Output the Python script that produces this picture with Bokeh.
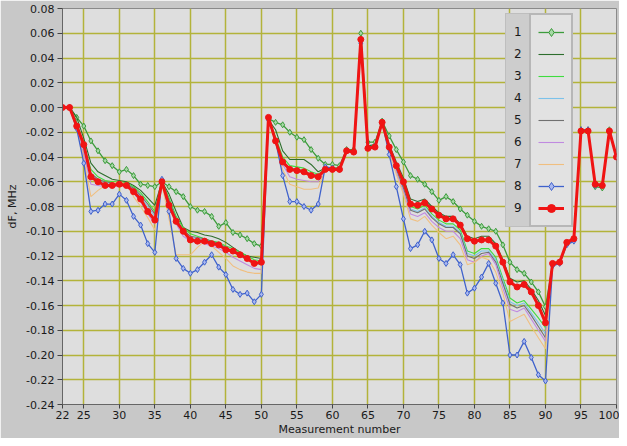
from bokeh.plotting import figure
from bokeh.models import FixedTicker, PrintfTickFormatter, Legend, LegendItem, Range1d
from bokeh.embed import file_html
from bokeh.resources import INLINE

# ---------------- data ----------------
measurement = list(range(22, 101))
x_ticks = [22, 25, 30, 35, 40, 45, 50, 55, 60, 65, 70, 75, 80, 85, 90, 95, 100]
y_ticks = [-0.24, -0.22, -0.20, -0.18, -0.16, -0.14, -0.12, -0.10, -0.08, -0.06,
           -0.04, -0.02, 0.0, 0.02, 0.04, 0.06, 0.08]
series_names = ["1", "2", "3", "4", "5", "6", "7", "8", "9"]

s1 = [0, 0, -.008, -.015, -.027, -.035, -.043, -.047, -.052, -.050, -.055, -.062, -.063, -.064,
      -.060, -.064, -.068, -.072, -.080, -.083, -.084, -.088, -.096, -.093, -.101, -.103, -.106, -.110, -.112,
      -.009, -.012, -.014, -.020, -.024, -.026, -.034, -.041, -.046, -.046, -.047, -.034, -.034, .060, -.028, -.028, -.011,
      -.023, -.034, -.044, -.055, -.058, -.062, -.068, -.075, -.072, -.076, -.082, -.087, -.092, -.096, -.098, -.100,
      -.111, -.125, -.131, -.134, -.141, -.149, -.161,
      -.127, -.125, -.110, -.107, -.018, -.018, -.064, -.065, -.018, -.040]
s2 = [0, 0, -.008, -.025, -.045, -.052, -.055, -.058, -.059, -.060, -.063, -.067, -.073, -.079,
      -.060, -.070, -.084, -.097, -.100, -.101, -.103, -.104, -.106, -.109, -.113, -.117, -.120, -.121, -.122,
      -.010, -.018, -.035, -.042, -.042, -.042, -.046, -.052, -.049, -.049, -.049, -.034, -.035, .056, -.031, -.030, -.011,
      -.030, -.044, -.057, -.074, -.076, -.074, -.080, -.085, -.088, -.088, -.094, -.104, -.106, -.104, -.104, -.110,
      -.123, -.138, -.141, -.140, -.147, -.156, -.168,
      -.126, -.125, -.109, -.106, -.019, -.019, -.063, -.063, -.019, -.040]
s3 = [0, 0, -.012, -.030, -.050, -.056, -.059, -.060, -.060, -.061, -.064, -.069, -.076, -.084,
      -.060, -.073, -.088, -.097, -.102, -.104, -.106, -.108, -.109, -.112, -.114, -.117, -.120, -.123, -.124,
      -.009, -.024, -.040, -.047, -.048, -.049, -.052, -.054, -.049, -.049, -.049, -.034, -.035, .056, -.032, -.031, -.012,
      -.033, -.049, -.064, -.080, -.082, -.079, -.086, -.091, -.094, -.094, -.099, -.116, -.118, -.114, -.114, -.121,
      -.138, -.154, -.158, -.156, -.163, -.170, -.178,
      -.126, -.125, -.109, -.106, -.019, -.019, -.063, -.063, -.019, -.040]
s4 = [0, 0, -.014, -.034, -.055, -.059, -.061, -.062, -.061, -.062, -.066, -.072, -.080, -.088,
      -.060, -.076, -.091, -.101, -.105, -.106, -.107, -.109, -.111, -.114, -.117, -.120, -.123, -.126, -.127,
      -.009, -.026, -.044, -.050, -.051, -.052, -.054, -.055, -.050, -.050, -.050, -.035, -.036, .054, -.033, -.032, -.012,
      -.034, -.051, -.066, -.082, -.084, -.081, -.088, -.093, -.096, -.096, -.101, -.118, -.120, -.116, -.116, -.123,
      -.140, -.157, -.160, -.158, -.166, -.174, -.183,
      -.126, -.125, -.109, -.106, -.019, -.019, -.063, -.063, -.019, -.040]
s5 = [0, 0, -.013, -.032, -.053, -.058, -.060, -.061, -.061, -.062, -.065, -.071, -.078, -.086,
      -.060, -.075, -.090, -.099, -.104, -.105, -.106, -.108, -.110, -.113, -.116, -.119, -.122, -.125, -.126,
      -.009, -.025, -.043, -.049, -.050, -.051, -.054, -.055, -.050, -.050, -.050, -.035, -.036, .054, -.033, -.032, -.012,
      -.034, -.050, -.065, -.083, -.085, -.082, -.089, -.094, -.097, -.097, -.102, -.120, -.122, -.118, -.117, -.125,
      -.142, -.159, -.162, -.160, -.168, -.177, -.186,
      -.126, -.125, -.109, -.106, -.019, -.019, -.063, -.063, -.019, -.040]
s6 = [0, 0, -.016, -.038, -.062, -.063, -.064, -.064, -.063, -.064, -.069, -.076, -.086, -.094,
      -.060, -.078, -.094, -.104, -.108, -.109, -.110, -.112, -.114, -.117, -.121, -.124, -.127, -.130, -.131,
      -.009, -.027, -.046, -.056, -.058, -.059, -.060, -.060, -.050, -.050, -.050, -.035, -.036, .054, -.033, -.032, -.012,
      -.035, -.052, -.068, -.086, -.088, -.085, -.092, -.097, -.100, -.100, -.106, -.123, -.125, -.120, -.118, -.127,
      -.146, -.163, -.165, -.162, -.171, -.180, -.189,
      -.126, -.125, -.109, -.106, -.019, -.019, -.063, -.063, -.019, -.040]
s7 = [0, 0, -.017, -.042, -.072, -.067, -.063, -.061, -.060, -.062, -.072, -.080, -.089, -.099,
      -.062, -.090, -.119, -.119, -.119, -.113, -.108, -.112, -.117, -.122, -.128, -.131, -.133, -.134, -.134,
      -.009, -.028, -.050, -.062, -.064, -.066, -.066, -.065, -.050, -.050, -.050, -.035, -.036, .054, -.033, -.032, -.012,
      -.036, -.054, -.070, -.090, -.092, -.088, -.095, -.101, -.106, -.104, -.111, -.127, -.125, -.121, -.123, -.133,
      -.150, -.173, -.170, -.167, -.177, -.186, -.195,
      -.126, -.125, -.109, -.106, -.019, -.019, -.063, -.063, -.019, -.040]
s8 = [0, 0, -.017, -.045, -.084, -.083, -.078, -.078, -.070, -.075, -.088, -.095, -.110, -.117,
      -.058, -.084, -.122, -.130, -.134, -.131, -.125, -.119, -.129, -.135, -.147, -.151, -.150, -.157, -.151,
      -.010, -.027, -.055, -.076, -.076, -.080, -.083, -.078, -.048, -.049, -.050, -.035, -.036, .052, -.032, -.031, -.012,
      -.038, -.064, -.090, -.114, -.111, -.100, -.107, -.122, -.126, -.119, -.127, -.150, -.146, -.137, -.126, -.142,
      -.158, -.200, -.200, -.189, -.202, -.216, -.221,
      -.128, -.126, -.111, -.108, -.018, -.018, -.063, -.063, -.019, -.040]
s9 = [0, 0, -.015, -.030, -.056, -.060, -.063, -.063, -.062, -.063, -.068, -.074, -.084, -.091,
      -.060, -.079, -.092, -.100, -.107, -.108, -.108, -.110, -.111, -.115, -.116, -.119, -.122, -.126, -.125,
      -.008, -.027, -.044, -.050, -.051, -.052, -.055, -.056, -.050, -.050, -.050, -.035, -.036, .055, -.033, -.032, -.012,
      -.032, -.047, -.060, -.078, -.079, -.077, -.082, -.087, -.090, -.090, -.095, -.106, -.108, -.107, -.107, -.112,
      -.125, -.141, -.145, -.143, -.149, -.160, -.174,
      -.126, -.125, -.109, -.106, -.019, -.019, -.062, -.063, -.019, -.040]

series_values = [s1, s2, s3, s4, s5, s6, s7, s8, s9]

# ---------------- styles ----------------
line_colors = ["#3c9c3c", "#2d6e2d", "#3fdc3f", "#7cc2ea", "#707070",
               "#c08ae0", "#f0bf80", "#3f62cc", "#f01414"]
line_widths = [1.3, 1.1, 1.1, 1.1, 1.1, 1.1, 1.1, 1.3, 3]
marker_kind = ["diamond", None, None, None, None, None, None, "diamond", "circle"]
marker_fill = ["#a6d8a6", None, None, None, None, None, None, "#aab8f0", "#f01414"]
marker_size = [6, 0, 0, 0, 0, 0, 0, 6, 6]

FONT = "DejaVu Sans"

p = figure(width=619, height=438,
           x_range=Range1d(22, 100), y_range=Range1d(-0.24, 0.08),
           output_backend="svg", toolbar_location=None,
           min_border_left=62, min_border_right=3, min_border_top=8, min_border_bottom=33,
           background_fill_color="#dedede", border_fill_color="#c8c8c8",
           outline_line_color="#8a8a8a")

p.xaxis.ticker = FixedTicker(ticks=x_ticks)
p.yaxis.ticker = FixedTicker(ticks=y_ticks)
p.yaxis.formatter = PrintfTickFormatter(format="%.2f")
p.xaxis.axis_label = "Measurement number"
p.yaxis.axis_label = "dF, MHz"
for ax in (p.xaxis, p.yaxis):
    ax.major_label_text_font = FONT
    ax.major_label_text_font_size = "11px"
    ax.major_label_text_color = "#1a1a1a"
    ax.axis_label_text_font = FONT
    ax.axis_label_text_font_size = "11px"
    ax.axis_label_text_font_style = "normal"
    ax.axis_label_text_color = "#1a1a1a"
    ax.major_tick_in = 0
    ax.minor_tick_line_color = None
    ax.major_tick_line_color = "#444444"
    ax.axis_line_color = "#666666"
p.yaxis.major_tick_out = 5
p.yaxis.major_label_standoff = 3
p.yaxis.axis_label_standoff = 4
p.xaxis.major_tick_out = 4
p.xaxis.major_label_standoff = 2
p.xaxis.axis_label_standoff = 1

p.xgrid.grid_line_color = "#b3b33a"
p.ygrid.grid_line_color = "#b3b33a"
p.xgrid.grid_line_width = 1.5
p.ygrid.grid_line_width = 1.5

label_items = []
glyph_items = []
for i, name in enumerate(series_names):
    r_line = p.line(measurement, series_values[i], line_color=line_colors[i],
                    line_width=line_widths[i])
    rends = [r_line]
    if marker_kind[i]:
        r_pts = p.scatter(measurement, series_values[i], marker=marker_kind[i],
                          size=marker_size[i], fill_color=marker_fill[i],
                          line_color=line_colors[i], line_width=1)
        rends.append(r_pts)
    dummy = p.line([], [], line_alpha=0)
    label_items.append(LegendItem(label=name, renderers=[dummy]))
    glyph_items.append(LegendItem(label="", renderers=rends))

legend_labels = Legend(items=label_items, location=(443, 177),
                       glyph_width=0, glyph_height=20, label_height=20, label_width=8,
                       label_standoff=0, spacing=2, padding=8, margin=0,
                       label_text_font=FONT, label_text_font_size="12px",
                       label_text_color="#1a1a1a",
                       background_fill_color="#cdcdcd", background_fill_alpha=1,
                       border_line_color="#b0b0b0")
legend_glyphs = Legend(items=glyph_items, location=(467, 177),
                       glyph_width=26, glyph_height=20, label_height=20, label_width=0,
                       label_standoff=0, spacing=2, padding=7, margin=0,
                       label_text_font_size="1px",
                       background_fill_color="#e2e2e2", background_fill_alpha=1,
                       border_line_color="#8c8c8c", border_line_width=2)
p.add_layout(legend_labels)
p.add_layout(legend_glyphs)

open("out.html", "w").write(file_html(p, INLINE))
